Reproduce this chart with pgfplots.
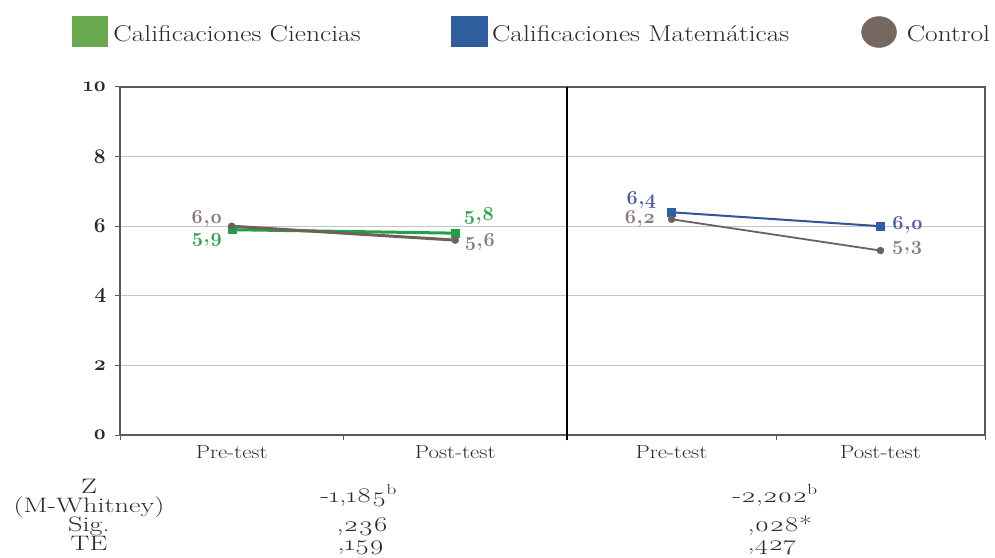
\documentclass[border=0pt]{standalone}
\usepackage{fontspec}
\setmainfont{Latin Modern Roman}[Numbers=OldStyle, FakeStretch=1.2]
\newfontfamily\plainlm{Latin Modern Roman}[Numbers=OldStyle]
\newfontfamily\widelm{Latin Modern Roman}[Numbers=OldStyle, FakeStretch=1.35]
\usepackage{pgfplots}
\pgfplotsset{compat=1.18}
\definecolor{cgreen}{HTML}{22A045}
\definecolor{cgreenlab}{HTML}{2EA54F}
\definecolor{cgreenleg}{HTML}{6AA84F}
\definecolor{cblue}{HTML}{2F5597}
\definecolor{cbluemark}{HTML}{2E5EAA}
\definecolor{cbluelab}{HTML}{4E5DA8}
\definecolor{cblueleg}{HTML}{2E5E9E}
\definecolor{cgray}{HTML}{6E605A}
\definecolor{cgraylab}{HTML}{8A7D77}
\definecolor{cgrayleg}{HTML}{76675F}
\definecolor{cframe}{HTML}{5A5A5A}
\definecolor{cgrid}{HTML}{C4C4C4}
\definecolor{ctext}{HTML}{2A2A2A}
\newcommand\lblfont{\plainlm\fontsize{20}{24}\selectfont\bfseries}
\newcommand\tabfont{\widelm\fontsize{21}{24}\selectfont}
\tikzset{lab/.style={font=\lblfont, inner sep=0pt}}
\pgfplotsset{
  panel/.style={
    scale only axis, height=348bp, xmin=0, xmax=2, ymin=0, ymax=10, clip=false,
    axis line style={cframe, line width=1.4bp},
    xtick={0,1,2}, xticklabels={,,},
    extra x ticks={0.5,1.5}, extra x tick labels={Pre-test,Post-test},
    extra x tick style={major tick length=0pt, grid=none},
    xticklabel style={font=\fontsize{19}{22}\selectfont, text=ctext, yshift=-7bp},
    tick align=outside, major tick length=5bp, tick style={cframe, line width=1bp},
    tick pos=left,
    ytick={0,2,4,6,8,10},
    ymajorgrids, major grid style={cgrid, line width=1bp},
  },
}
\begin{document}
\begin{tikzpicture}
\path (0bp,0bp) rectangle (995bp,554bp);
\begin{axis}[panel, at={(120bp,119bp)}, anchor=south west, width=447bp,
  yticklabels={0,2,4,6,8,10},
  yticklabel style={font=\plainlm\fontsize{21}{24}\selectfont\bfseries, text=ctext, xshift=-5bp},
  legend style={at={(axis description cs:-0.1074,1.158)}, anchor=west, draw=none, fill=none,
    inner sep=0pt, outer sep=0pt, legend columns=3,
    font=\fontsize{23}{26}\selectfont, text=ctext,
    nodes={inner sep=0pt},
    /tikz/column 1/.style={column sep=6bp},
    /tikz/column 2/.style={column sep=90bp},
    /tikz/column 3/.style={column sep=5bp},
    /tikz/column 4/.style={column sep=72bp},
    /tikz/column 5/.style={column sep=10bp}},
  legend cell align=left]
\addlegendimage{legend image code/.code={\fill[cgreenleg] (0bp,-12bp) rectangle (35bp,18bp);}}
\addlegendentry{Calificaciones Ciencias}
\addlegendimage{legend image code/.code={\fill[cblueleg] (0bp,-12bp) rectangle (36bp,18bp);}}
\addlegendentry{Calificaciones Matemáticas}
\addlegendimage{legend image code/.code={\fill[cgrayleg] (17.5bp,2.5bp) ellipse [x radius=17.5bp, y radius=15.5bp];}}
\addlegendentry{Control}
\addplot[cgreen, line width=3bp, mark=square*, mark size=4bp, mark options={line width=0.4bp}, forget plot]
  coordinates {(0.5,5.9) (1.5,5.8)};
\addplot[cgray, line width=3bp, mark=*, mark size=3.5bp, mark options={line width=0.4bp}, forget plot]
  coordinates {(0.5,6.0) (1.5,5.6)};
\node[lab, text=cgraylab, anchor=base east, xshift=-9bp, yshift=2.5bp] at (axis cs:0.5,6.0) {6,0};
\node[lab, text=cgreenlab, anchor=base east, xshift=-9bp, yshift=-12.5bp] at (axis cs:0.5,5.9) {5,9};
\node[lab, text=cgreenlab, anchor=base west, xshift=8bp, yshift=12.2bp] at (axis cs:1.5,5.8) {5,8};
\node[lab, text=cgraylab, anchor=base west, xshift=9bp, yshift=-5.9bp] at (axis cs:1.5,5.6) {5,6};
\end{axis}
\begin{axis}[panel, at={(567bp,119bp)}, anchor=south west, width=418bp,
  yticklabels={}, major y tick style={draw=none}]
\addplot[cblue, line width=2bp, mark=square*, mark size=4bp, mark options={cbluemark, line width=0.4bp}]
  coordinates {(0.5,6.4) (1.5,6.0)};
\addplot[cgray, line width=1.8bp, mark=*, mark size=3.5bp, mark options={line width=0.4bp}]
  coordinates {(0.5,6.2) (1.5,5.3)};
\node[lab, text=cbluelab, anchor=base east, xshift=-15bp, yshift=7.5bp] at (axis cs:0.5,6.4) {6,4};
\node[lab, text=cgraylab, anchor=base east, xshift=-16bp, yshift=-4.5bp] at (axis cs:0.5,6.2) {6,2};
\node[lab, text=cbluelab, anchor=base west, xshift=11bp, yshift=-3.8bp] at (axis cs:1.5,6.0) {6,0};
\node[lab, text=cgraylab, anchor=base west, xshift=11bp, yshift=-0.4bp] at (axis cs:1.5,5.3) {5,3};
\draw[black, line width=2.5bp] (rel axis cs:0,0) ++(0,-5bp) -- (rel axis cs:0,1);
\end{axis}
\begin{scope}[font=\tabfont, text=ctext]
\node[anchor=base] at (89bp,61bp) {Z};
\node[anchor=base] at (89bp,42bp) {(M-Whitney)};
\node[anchor=base] at (89bp,23bp) {Sig.};
\node[anchor=base] at (89bp,4bp) {TE};
\node[anchor=base west] at (317bp,52bp) {-1,185\textsuperscript{b}};
\node[anchor=base west] at (333bp,23bp) {,236};
\node[anchor=base west] at (334bp,4bp) {,159};
\node[anchor=base west] at (729bp,52bp) {-2,202\textsuperscript{b}};
\node[anchor=base west] at (744bp,23bp) {,028*};
\node[anchor=base west] at (744bp,4bp) {,427};
\end{scope}
\end{tikzpicture}
\end{document}
